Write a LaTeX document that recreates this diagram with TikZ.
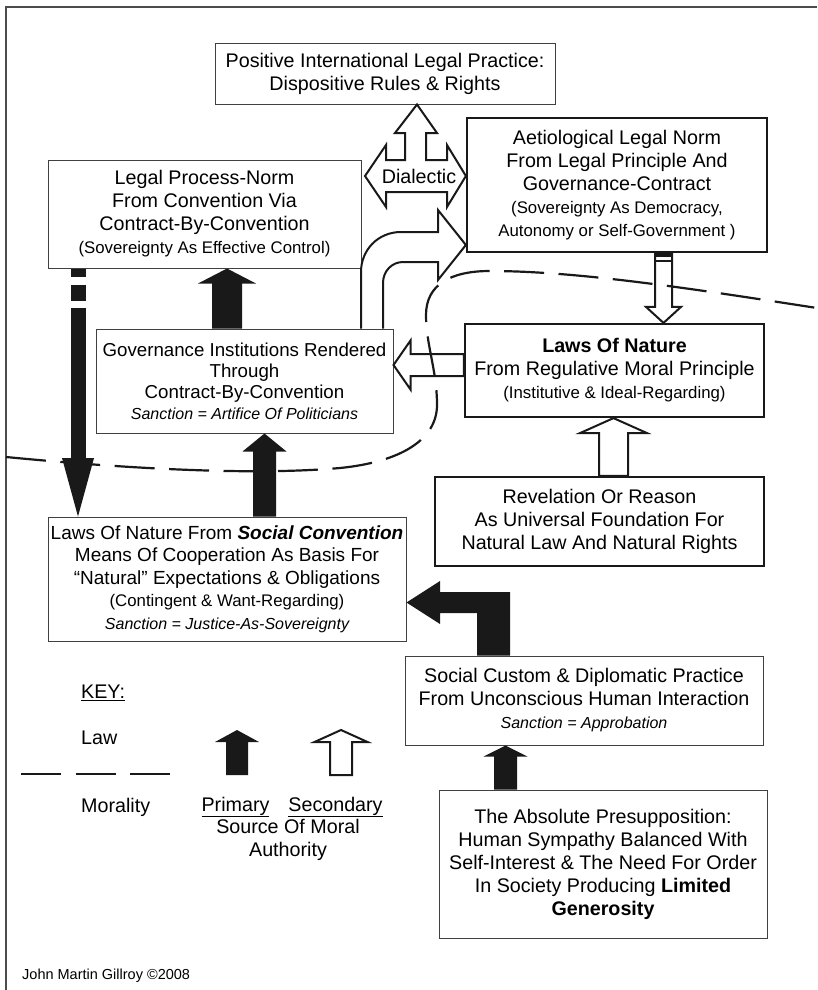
\documentclass[tikz,border=0pt]{standalone}
\usepackage{fontspec}
\setmainfont{Liberation Sans}
\usetikzlibrary{calc}

\newcommand{\bigfont}{\fontsize{19.7}{23}\selectfont}
\newcommand{\govfont}{\fontsize{18.7}{21}\selectfont}
\newcommand{\convfont}{\fontsize{19}{22.5}\selectfont}
\newcommand{\smallfont}{\fontsize{16.8}{20}\selectfont}
\newcommand{\sanctionfont}{\fontsize{16}{20}\selectfont\itshape}
\newcommand{\creditfont}{\fontsize{14.5}{17}\selectfont}

% fat vertical arrow: [style]{x}{tip}{tail}{shaft half}{head half}{head length}
\newcommand{\fatv}[7][secondary]{%
  \draw[#1] (#2,0 |- #3) -- ($(#2+#6,0 |- #3)+(0,#7)$) -- ($(#2+#5,0 |- #3)+(0,#7)$)
    -- (#2+#5,0 |- #4) -- (#2-#5,0 |- #4) -- ($(#2-#5,0 |- #3)+(0,#7)$)
    -- ($(#2-#6,0 |- #3)+(0,#7)$) -- cycle;}
% fat horizontal arrow: [style]{y}{tip}{tail}{shaft half}{head half}{head length}
\newcommand{\fath}[7][secondary]{%
  \draw[#1] (#3 |- 0,#2) -- ($(#3 |- 0,#2-#6)+(#7,0)$) -- ($(#3 |- 0,#2-#5)+(#7,0)$)
    -- (#4 |- 0,#2-#5) -- (#4 |- 0,#2+#5) -- ($(#3 |- 0,#2+#5)+(#7,0)$)
    -- ($(#3 |- 0,#2+#6)+(#7,0)$) -- cycle;}

\begin{document}
\begin{tikzpicture}[x=1pt, y=-1pt, font=\bigfont]
    % Define styles
    \tikzset{
        box/.style={draw=black!75, line width=1pt, rectangle, align=center, inner sep=0pt},
        heavybox/.style={box, draw=black!90, line width=2.2pt},
        primary/.style={fill=black!90, draw=none},
        secondary/.style={draw=black!90, fill=white, line width=2pt, line join=miter},
        boundary/.style={draw=black!90, line width=2.2pt, dash pattern=on 40pt off 14.5pt},
        dashshaft/.style={draw=black!90, line width=15pt, dash pattern=on 8pt off 8pt on 16pt off 7pt on 300pt},
        keytext/.style={anchor=west, inner sep=0pt}
    }
    \path[use as bounding box, fill=white] (0,0) rectangle (817,990);

    % Frame
    \draw[black!70, line width=1.2pt] (6,990) -- (6,7) -- (817,7);

    % Place nodes
    \node[box, minimum width=340pt, minimum height=60pt] (pos) at (385,74)
        {Positive International Legal Practice:\\Dispositive Rules \& Rights};
    \node[box, minimum width=313pt, minimum height=108pt] (legal) at (204.5,214)
        {Legal Process-Norm\\From Convention Via\\Contract-By-Convention\\
         \smallfont(Sovereignty As Effective Control)};
    \node[heavybox, minimum width=300pt, minimum height=134pt] (aet) at (617,185)
        {Aetiological Legal Norm\\From Legal Principle And\\Governance-Contract\\
         \smallfont(Sovereignty As Democracy,\\\smallfont Autonomy or Self-Government )};
    \node[heavybox, minimum width=299pt, minimum height=93pt] (law) at (614.5,370.5)
        {\textbf{Laws Of Nature}\\From Regulative Moral Principle\\
         \smallfont(Institutive \& Ideal-Regarding)};
    \node[box, minimum width=297pt, minimum height=104pt, font=\govfont] (gov) at (244.5,381)
        {Governance Institutions Rendered\\Through\\Contract-By-Convention\\
         \sanctionfont Sanction = Artifice Of Politicians};
    \node[box, minimum width=358pt, minimum height=124pt, font=\convfont] (conv) at (227,579)
        {Laws Of Nature From \textbf{\textit{Social Convention}}\\Means Of Cooperation As Basis For\\
         “Natural” Expectations \& Obligations\\\smallfont(Contingent \& Want-Regarding)\\
         \sanctionfont Sanction = Justice-As-Sovereignty};
    \node[heavybox, minimum width=329pt, minimum height=89pt] (rev) at (599.5,521.5)
        {Revelation Or Reason\\As Universal Foundation For\\Natural Law And Natural Rights};
    \node[box, minimum width=358pt, minimum height=89pt] (custom) at (584,700.5)
        {Social Custom \& Diplomatic Practice\\From Unconscious Human Interaction\\
         \sanctionfont Sanction = Approbation};
    \node[box, minimum width=328pt, minimum height=148pt] (abs) at (603,864)
        {The Absolute Presupposition:\\Human Sympathy Balanced With\\Self-Interest \& The Need For Order\\
         In Society Producing \textbf{Limited}\\\textbf{Generosity}};

    % Draw arrows
    \fatv[primary]{227}{legal.south}{gov.north}{15}{29}{15}
    \fatv[primary]{264.5}{gov.south}{conv.north}{11.5}{22}{18}
    \fatv[primary]{505.5}{custom.south}{abs.north}{11.5}{22}{11}
    \fatv{663.5}{law.north}{aet.south}{8.5}{17.5}{-16}
    \fatv{613.5}{law.south}{rev.north}{14.5}{33.5}{15}
    \fath{365}{gov.east}{law.west}{11}{24.5}{17}
    % small bars at the top of the down arrow
    \fill[black!90] (655,0 |- aet.south) rectangle (672,257);
    \fill[black!90] (655,259.5) rectangle (672,262);
    % custom to convention, bent
    \draw[primary] (conv.east |- 0,602.5) -- (440,581) -- (440,592) -- (510,592) -- (510,0 |- custom.north)
        -- (477,0 |- custom.north) -- (477,613) -- (440,613) -- (440,624) -- cycle;
    % governance to aetiological, curved
    \draw[secondary] (361,0 |- gov.north) -- (361,272) .. controls (361,250) and (378,232) .. (401,232)
        -- (438,232) -- (438,210) -- (aet.west |- 0,245) -- (438,280) -- (438,262) -- (403,262)
        .. controls (392,262) and (383,271) .. (383,283) -- (383,0 |- gov.north);
    % dialectic
    \draw[secondary] (417,0 |- pos.south) -- (437,133) -- (426,133) -- (426,160) -- (447,160) -- (447,145)
        -- (aet.west |- 0,176) -- (447,207) -- (447,192) -- (386,192) -- (386,207) -- (365,176)
        -- (386,145) -- (386,160) -- (405,160) -- (405,133) -- (395,133) -- cycle;
    \node[inner sep=0pt] (dialectic) at (419,176) {Dialectic};
    % legal process-norm down to convention
    \coordinate (dashend) at (78,458);
    \draw[dashshaft] (78,0 |- legal.south) -- (dashend);
    \fill[black!90] (78,0 |- conv.north) -- (94,458) -- (62,458) -- cycle;

    % Law / morality boundary
    \draw[boundary] (6,457) .. controls (120,468) and (250,476) .. (340,468)
        .. controls (400,462) and (437,440) .. (437,405) .. controls (437,370) and (426,345) .. (426,315)
        .. controls (426,285) and (450,271) .. (490,271) .. controls (580,271) and (700,290) .. (817,308);

    % Key
    \node[keytext] (keytitle) at (81,693) {\underline{KEY:}};
    \node[keytext] (lawkey) at (81,738) {Law};
    \node[keytext] (moralkey) at (81,807) {Morality};
    \draw[boundary] (21,774) -- (170,774);
    \fatv[primary]{237}{0,730}{0,775}{11}{22}{12}
    \fatv{341}{0,730}{0,775}{11}{26.5}{12}
    \node[inner sep=0pt] (primarykey) at (235.5,807) {\underline{Primary}};
    \node[inner sep=0pt] (secondarykey) at (335.5,807) {\underline{Secondary}};
    \node[inner sep=0pt, align=center] (source) at (288,840) {Source Of Moral\\Authority};

    % Credit
    \node[keytext, font=\creditfont] (credit) at (22,976) {John Martin Gillroy ©2008};
\end{tikzpicture}
\end{document}
